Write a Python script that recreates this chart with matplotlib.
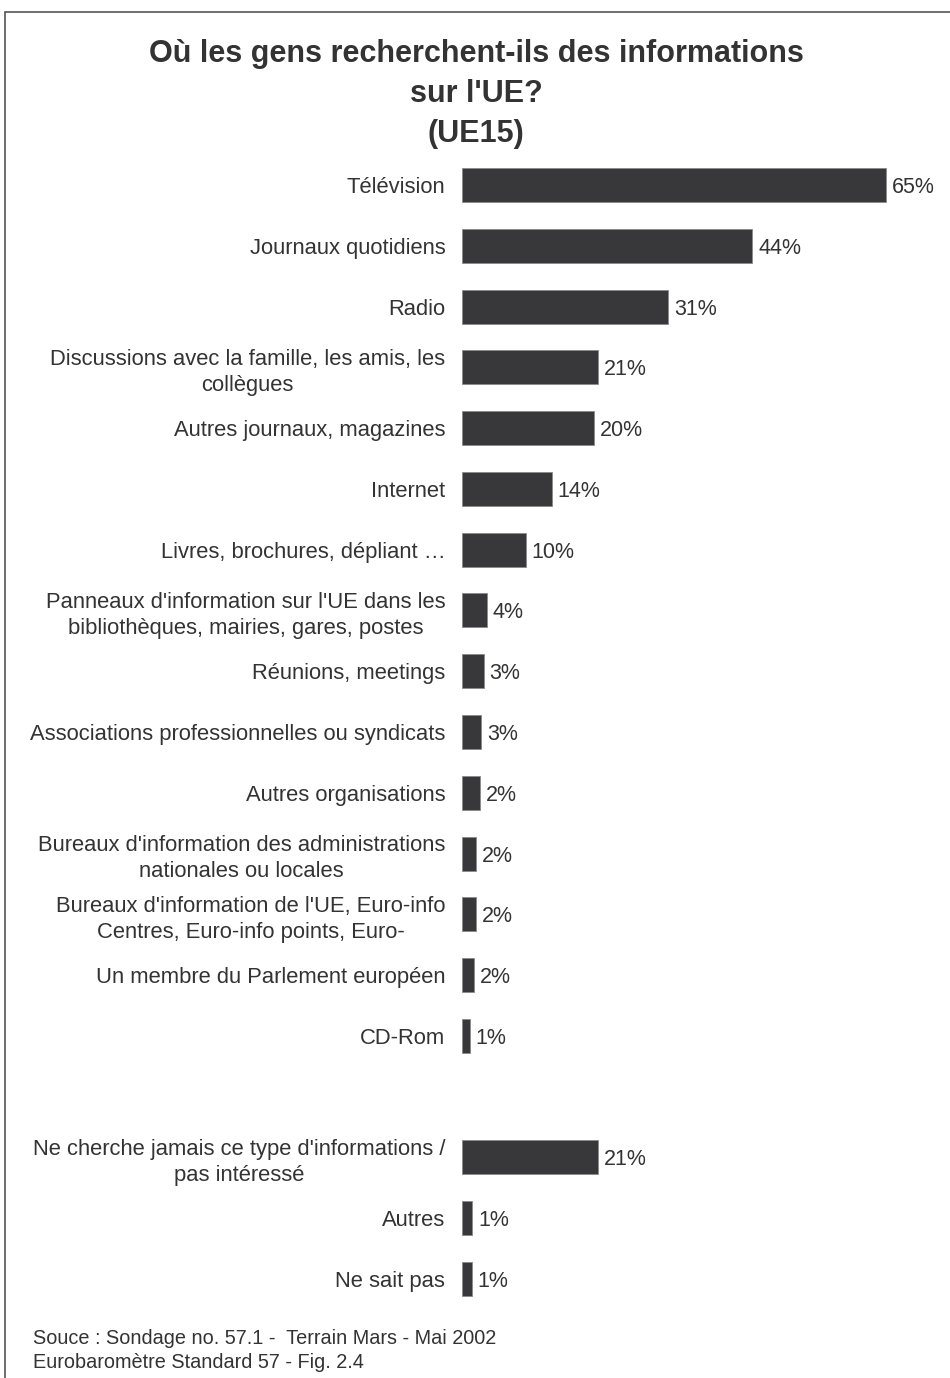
import matplotlib.pyplot as plt
from matplotlib.patches import Rectangle

plt.rcParams['font.family'] = ['Liberation Sans', 'DejaVu Sans']

# Données
categories = [
    "Télévision",
    "Journaux quotidiens",
    "Radio",
    "Discussions avec la famille, les amis, les\ncollègues",
    "Autres journaux, magazines",
    "Internet",
    "Livres, brochures, dépliant …",
    "Panneaux d'information sur l'UE dans les\nbibliothèques, mairies, gares, postes",
    "Réunions, meetings",
    "Associations professionnelles ou syndicats",
    "Autres organisations",
    "Bureaux d'information des administrations\nnationales ou locales",
    "Bureaux d'information de l'UE, Euro-info\nCentres, Euro-info points, Euro-",
    "Un membre du Parlement européen",
    "CD-Rom",
    "Ne cherche jamais ce type d'informations /\npas intéressé",
    "Autres",
    "Ne sait pas",
]
# valeurs lues sur les barres (non arrondies) et étiquettes affichées
valeurs = [65, 44.5, 31.6, 20.9, 20.2, 13.8, 9.8, 3.8, 3.3, 2.9, 2.7, 2.2, 2.1, 1.8, 1.2, 20.9, 1.6, 1.5]
etiquettes = ["65%", "44%", "31%", "21%", "20%", "14%", "10%", "4%", "3%", "3%",
              "2%", "2%", "2%", "2%", "1%", "21%", "1%", "1%"]
# positions (avec un espace avant le dernier groupe)
positions = list(range(15)) + [16, 17, 18]

W, H = 950, 1378
fig = plt.figure(figsize=(W / 100, H / 100), dpi=100)

# Cadre
fig.patches.append(Rectangle((5 / W, -0.1), 1.2, 1 - 12 / H + 0.1,
                             transform=fig.transFigure, fill=False,
                             edgecolor='#555555', linewidth=1.2))

# Axes : 0 % à x=462 px, 6.52 px par %
x0 = 462
px_par_pct = 6.52
top, bottom = 154.6, 1309.4
ax = fig.add_axes([x0 / W, 1 - bottom / H, (W - x0) / W, (bottom - top) / H])
ax.set_xlim(0, (W - x0) / px_par_pct)
ax.set_ylim(18.5, -0.5)

ax.barh(positions, valeurs, height=0.56, color='#38383a',
        edgecolor='#8a8a8a', linewidth=0.6)

for p, v, e in zip(positions, valeurs, etiquettes):
    ax.text(v + 0.9, p, e, va='center_baseline', ha='left', fontsize=15.5, color='#333333')

ax.set_yticks(positions)
ax.set_yticklabels(categories, fontsize=15.8, color='#333333')
for lab in ax.get_yticklabels():
    lab.set_multialignment('center')
    lab.set_linespacing(1.3)
ax.tick_params(axis='y', length=0, pad=12)
ax.set_xticks([])
for s in ax.spines.values():
    s.set_visible(False)
ax.patch.set_visible(False)

# Titre
fig.text(476 / W, 1 - 94 / H, "Où les gens recherchent-ils des informations\nsur l'UE?\n(UE15)",
         ha='center', va='center', fontsize=22, fontweight='bold', color='#333333',
         linespacing=1.45)

# Source
fig.text(33 / W, 1 - 1338 / H, "Souce : Sondage no. 57.1 -  Terrain Mars - Mai 2002",
         ha='left', va='center', fontsize=14.3, color='#333333')
fig.text(33 / W, 1 - 1362 / H, "Eurobaromètre Standard 57 - Fig. 2.4",
         ha='left', va='center', fontsize=14.3, color='#333333')

fig.savefig('out.png', dpi=100, facecolor='white')
